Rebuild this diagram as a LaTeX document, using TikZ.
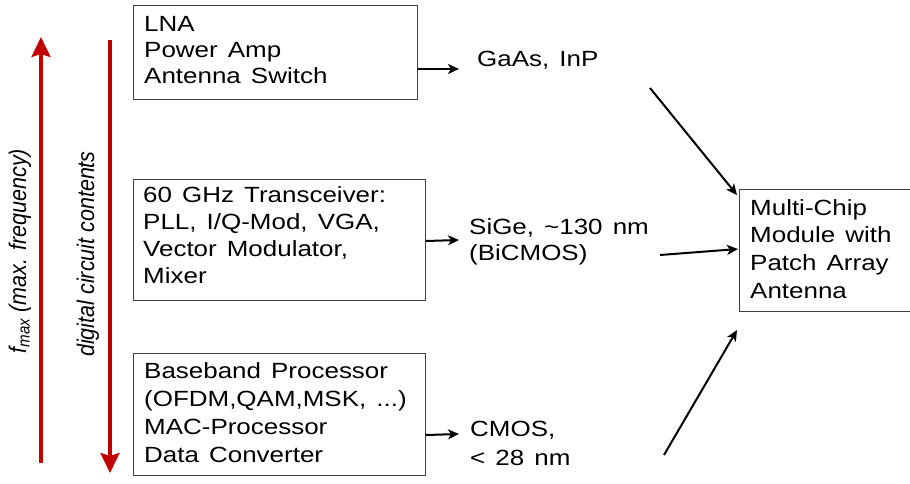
\documentclass[tikz,border=0pt]{standalone}
\usepackage{fontspec}
\setmainfont{Liberation Sans}[FakeStretch=1.18,WordSpace=1.4]
\newfontfamily\rotfont{Liberation Sans}
\usetikzlibrary{arrows.meta}
\definecolor{darkred}{HTML}{C00000}
\begin{document}
\begin{tikzpicture}[x=1pt,y=-1pt,
  box/.style={draw=black!75,line width=0.9pt,inner sep=0pt,anchor=north west},
  txt/.style={anchor=base west,align=left,inner sep=0pt,font=\fontsize{22}{#1}\selectfont},
  txt/.default=26.7,
  conn/.style={-{Stealth[length=11pt,width=10pt,inset=3pt]},line width=2pt},
  redarrow/.style={draw=darkred,line width=3.5pt,-{Stealth[length=20pt,width=19pt,inset=3pt]}},
  side/.style={rotate=90,inner sep=0pt,font=\rotfont\fontsize{21.5}{24}\selectfont\itshape}]
\useasboundingbox (0,0) rectangle (910,483);
% boxes
\node[box,minimum width=284pt,minimum height=94pt] (b1) at (133,5) {};
\node[txt=25.7] (t1) at (144,83) {LNA\\Power Amp\\Antenna Switch};
\node[box,minimum width=292pt,minimum height=121pt] (b2) at (133,179) {};
\node[txt=26.7] (t2) at (143,283) {60 GHz Transceiver:\\PLL, I/Q-Mod, VGA,\\Vector Modulator,\\Mixer};
\node[box,minimum width=292pt,minimum height=122pt] (b3) at (133,353) {};
\node[txt=28] (t3) at (144,462) {Baseband Processor\\(OFDM,QAM,MSK, ...)\\MAC-Processor\\Data Converter};
\node[box,minimum width=171pt,minimum height=122pt] (b4) at (739,189) {};
\node[txt=27.6] (t4) at (750,298) {Multi-Chip\\Module with\\Patch Array\\Antenna};
% technology labels
\node[txt] (g1) at (477,66) {GaAs, InP};
\node[txt=26] (g2) at (469,260) {SiGe, \textasciitilde130 nm\\(BiCMOS)};
\node[txt=29] (g3) at (470,465) {CMOS,\\< 28 nm};
% short arrows
\draw[conn] (b1.east |- 0,69) coordinate (s1) -- (459,69) coordinate (e1);
\draw[conn] (b2.east |- 0,241) coordinate (s2) -- (459,240) coordinate (e2);
\draw[conn] (b3.east |- 0,435) coordinate (s3) -- (459,434) coordinate (e3);
% long arrows
\coordinate (l1) at (650,88);
\coordinate (l2) at (660,255);
\coordinate (l3) at (664,455);
\draw[conn] (l1) -- (737,195);
\draw[conn] (l2) -- (738,249);
\draw[conn] (l3) -- (737,330);
% red arrows
\coordinate (r1s) at (41,463);
\coordinate (r1e) at (41,37);
\coordinate (r2s) at (110,40);
\coordinate (r2e) at (110,473);
\draw[redarrow] (r1s) -- (r1e);
\draw[redarrow] (r2s) -- (r2e);
\node[side] (fm) at (20,251) {\scalebox{1}[1.12]{\textit{f}\textsubscript{max} (max. frequency)}};
\node[side] (dc) at (88,254) {\scalebox{1}[1.12]{digital circuit contents}};
\end{tikzpicture}
\end{document}
